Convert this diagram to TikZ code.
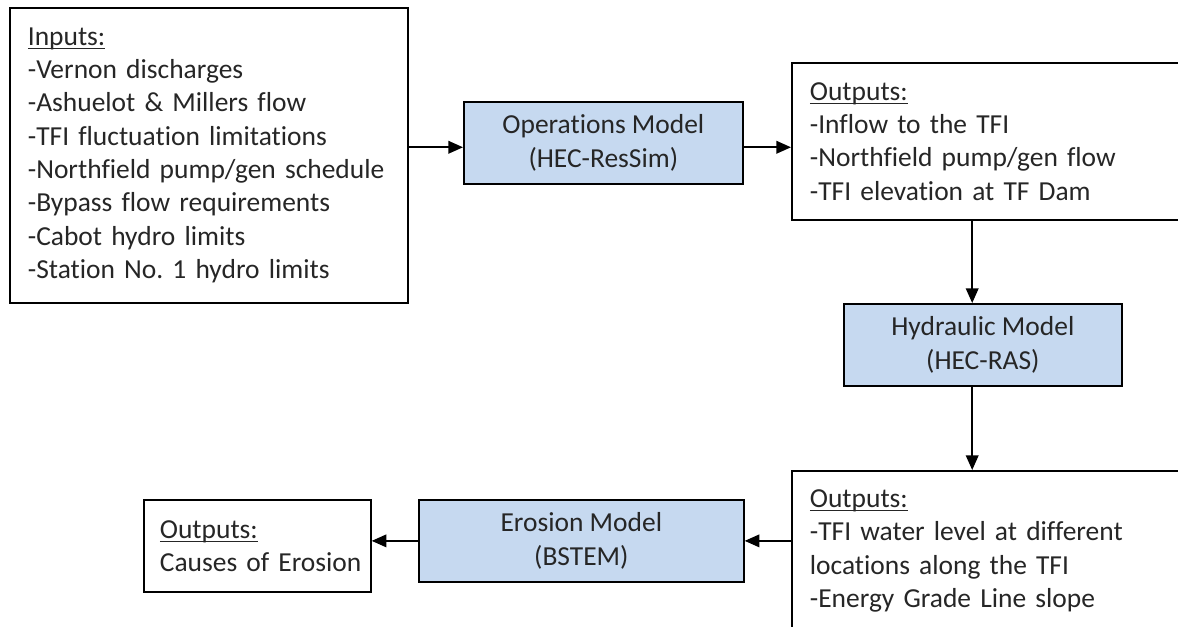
\documentclass[tikz,border=0pt]{standalone}
\usepackage{fontspec}
\setmainfont{Carlito}[Ligatures=NoCommon]
\usetikzlibrary{arrows.meta}
\definecolor{modelblue}{RGB}{198,217,240}
\newcommand{\ulinetext}[1]{\setbox0\hbox{#1}\rlap{\rule[-3pt]{\wd0}{1pt}}\box0}
\tikzset{every picture/.style={line width=0.75pt}}
\frenchspacing

\begin{document}
\begin{tikzpicture}[x=0.75pt,y=0.75pt,yscale=-1,xscale=1,
  box/.style={draw, line width=1.3pt, anchor=north west, inner xsep=13.5pt, inner ysep=0pt, align=left, text=black!85, font=\fontsize{20.6}{25}\selectfont},
  model/.style={box, fill=modelblue, align=center, inner xsep=0pt},
  arr/.style={-{Triangle[length=11pt,width=9.5pt]}, line width=1.2pt}]
\useasboundingbox (0,0) rectangle (1178,626);
\clip (0,0) rectangle (1178,626);

%Inputs
\node [box, text width=271.5pt, minimum height=221.25pt] (inputs) at (9,7) {\ulinetext{Inputs:}\\-Vernon discharges\\-Ashuelot \& Millers flow\\-TFI fluctuation limitations\\-Northfield pump/gen schedule\\-Bypass flow requirements\\-Cabot hydro limits\\-Station No. 1 hydro limits};
%Operations model
\node [model, minimum width=209.25pt, minimum height=61.5pt] (ops) at (463,101) {Operations Model\\(HEC-ResSim)};
%Outputs of the operations model
\node [box, text width=288pt, minimum height=117.75pt] (out1) at (791,62) {\ulinetext{Outputs:}\\-Inflow to the TFI\\-Northfield pump/gen flow\\-TFI elevation at TF Dam};
%Hydraulic model
\node [model, minimum width=208.5pt, minimum height=61.5pt] (hyd) at (843,303) {Hydraulic Model\\(HEC-RAS)};
%Outputs of the hydraulic model
\node [box, text width=288pt, minimum height=120pt] (out2) at (791,470) {\ulinetext{Outputs:}\\-TFI water level at different\\locations along the TFI\\-Energy Grade Line slope};
%Erosion model
\node [model, minimum width=243.75pt, minimum height=61.5pt] (ero) at (418,499) {Erosion Model\\(BSTEM)};
%Outputs of the erosion model
\node [box, inner xsep=12pt, text width=146.25pt, minimum height=69pt] (causes) at (143,499) {\ulinetext{Outputs:}\\\mbox{Causes of Erosion}};

% Connectors
\coordinate (opsin) at ([yshift=3.3pt]ops.west);
\coordinate (opsout) at ([yshift=3.3pt]ops.east);
\coordinate (hydin) at ([xshift=-8pt]hyd.north);
\coordinate (hydout) at ([xshift=-8pt]hyd.south);
\draw [arr] (inputs.east |- opsin) -- (opsin);
\draw [arr] (opsout) -- (opsout -| out1.west);
\draw [arr] (hydin |- out1.south) -- (hydin);
\draw [arr] (hydout) -- (hydout |- out2.north);
\draw [arr] (out2.west |- ero.east) -- (ero.east);
\draw [arr] (ero.west) -- (ero.west -| causes.east);
\end{tikzpicture}
\end{document}
